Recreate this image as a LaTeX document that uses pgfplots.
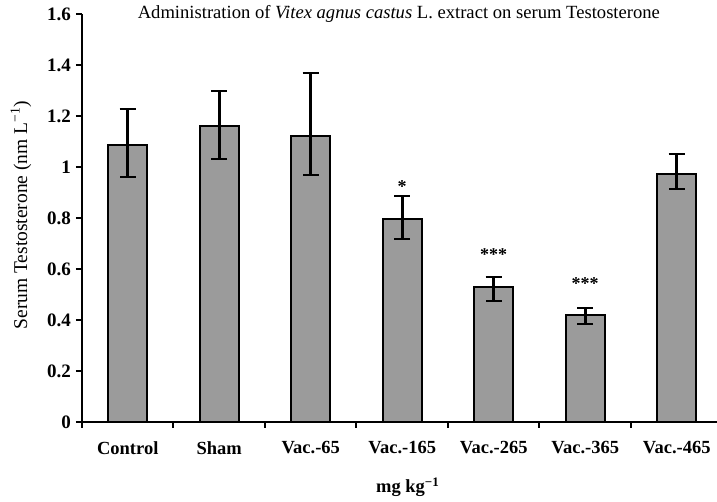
\documentclass[border=0pt]{standalone}
\usepackage{fontspec}
\setmainfont{Liberation Serif}
\usepackage{pgfplots}
\pgfplotsset{compat=1.18}
\begin{document}
\begin{tikzpicture}
\begin{axis}[
  name=ax,
  scale only axis,
  width=635pt, height=408pt,
  xmin=-0.5, xmax=6.44,
  ymin=0, ymax=1.6,
  axis lines*=left,
  axis line style={line width=2.2pt},
  every tick/.style={black, line width=2pt},
  tick align=outside,
  major tick length=6pt,
  ytick={0,0.2,...,1.6},
  yticklabels={0,0.2,0.4,0.6,0.8,1,1.2,1.4,1.6},
  yticklabel style={font=\fontsize{19}{21}\selectfont\bfseries, xshift=-1.5pt},
  xtick={-0.5,0.5,...,5.5},
  xticklabels={},
  extra x ticks={0,1,2,3,4,5,6},
  extra x tick labels={Control,Sham,Vac.-65,Vac.-165,Vac.-265,Vac.-365,Vac.-465},
  extra x tick style={major tick length=0pt, tick style={draw=none}},
  xticklabel style={font=\fontsize{18.5}{20}\selectfont\bfseries, yshift=-16pt},
  /pgf/number format/assume math mode=true,
  xlabel={mg kg\textsuperscript{−1}},
  xlabel style={font=\fontsize{18.5}{20}\selectfont\bfseries, at={(axis description cs:0.513,0)}, anchor=center, yshift=-65pt},
  ylabel={Serum Testosterone (nm L\textsuperscript{−1})},
  ylabel style={font=\fontsize{19.5}{21}\selectfont, at={([xshift=-61pt]axis description cs:0,0.507)}, anchor=center},
  title={Administration of \textit{Vitex agnus castus} L. extract on serum Testosterone},
  title style={font=\fontsize{18.6}{20}\selectfont, at={(axis description cs:0.499,1)}, anchor=base, yshift=-11pt},
  clip=false,
]
\addplot[ybar, bar width=0.43, fill={rgb,255:red,155;green,155;blue,155}, draw=black, line width=2pt,
  error bars/.cd, y dir=both, y explicit,
  error bar style={line width=2.6pt, black},
  error mark options={rotate=90, mark size=8pt, line width=2.6pt, black}]
coordinates {
 (0,1.086) += (0,0.141) -= (0,0.126)
 (1,1.161) += (0,0.137) -= (0,0.130)
 (2,1.122) += (0,0.247) -= (0,0.153)
 (3,0.796) += (0,0.090) -= (0,0.078)
 (4,0.529) += (0,0.040) -= (0,0.054)
 (5,0.420) += (0,0.027) -= (0,0.036)
 (6,0.973) += (0,0.078) -= (0,0.059)
};
\node[font=\fontsize{18}{20}\selectfont\bfseries] at (axis cs:3,0.925) {*};
\node[font=\fontsize{18}{20}\selectfont\bfseries] at (axis cs:4,0.655) {***};
\node[font=\fontsize{18}{20}\selectfont\bfseries] at (axis cs:5,0.541) {***};
\end{axis}
\pgfresetboundingbox
\path ([shift={(-82pt,-80pt)}]ax.south west) rectangle ([shift={(0pt,14pt)}]ax.north east);
\end{tikzpicture}
\end{document}
